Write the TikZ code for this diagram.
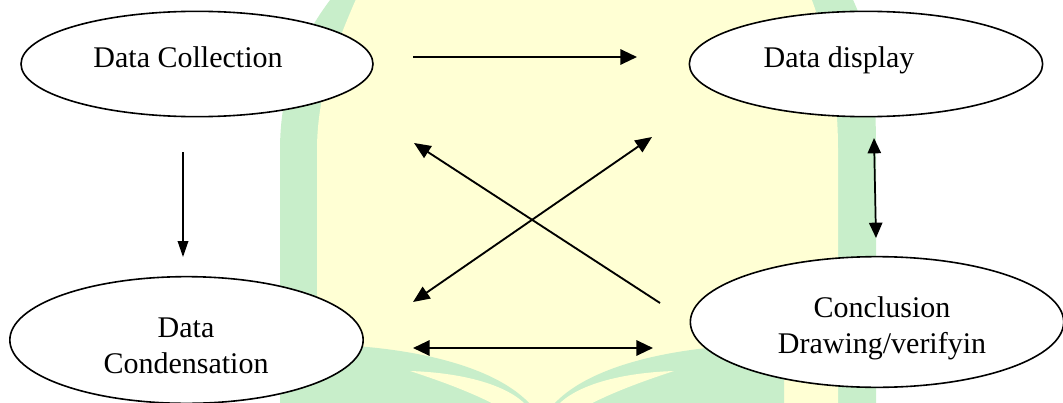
\documentclass[tikz,border=0pt]{standalone}
\usepackage{fontspec}
\setmainfont{Liberation Serif}
\usetikzlibrary{arrows.meta,shapes.geometric}
\definecolor{wmyellow}{RGB}{255,255,212}
\definecolor{wmgreen}{RGB}{200,238,202}
\begin{document}
\begin{tikzpicture}[x=0.75pt,y=-0.75pt,
  stage/.style={ellipse, draw, line width=1.2pt, fill=white, inner sep=0pt},
  caption/.style={font=\fontsize{22.5}{27}\selectfont, inner sep=0pt, align=center},
  flow/.style={line width=1.6pt, -{Triangle[length=12.5pt,width=11.5pt]}},
  twoway/.style={line width=1.6pt, {Triangle[length=12.5pt,width=11.5pt]}-{Triangle[length=12.5pt,width=11.5pt]}},
  thinflow/.style={line width=1pt, -{Triangle[length=12pt,width=8pt]}},
  thintwoway/.style={line width=1.3pt, {Triangle[length=11.5pt,width=10pt]}-{Triangle[length=11.5pt,width=10pt]}},
  slant/.style={line width=1.4pt, -{Triangle[length=12.5pt,width=10.5pt]}},
  slanttwoway/.style={line width=1.4pt, {Triangle[length=12.5pt,width=10.5pt]}-{Triangle[length=12.5pt,width=10.5pt]}}
]
\useasboundingbox (0,0) rectangle (1063,403);

% faint background emblem
\begin{scope}
  \clip (0,0) rectangle (1063,403);
  \fill[wmgreen] (280,410) -- (280,150) .. controls (280,80) and (305,30) .. (338,-10)
    -- (848,-10) .. controls (870,30) and (876,80) .. (876,150) -- (876,410) -- cycle;
  \fill[wmyellow] (317,410) -- (317,150) .. controls (317,90) and (338,40) .. (360,-10)
    -- (808,-10) .. controls (828,40) and (838,90) .. (838,150) -- (838,410) -- cycle;
  % open book
  \fill[wmgreen] (300,344) .. controls (420,344) and (505,370) .. (535,410) -- (300,410) -- cycle;
  \fill[wmgreen] (784,344) .. controls (664,344) and (579,370) .. (549,410) -- (784,410) -- cycle;
  \fill[wmyellow] (410,371) .. controls (470,373) and (515,388) .. (530,410)
    -- (505,410) .. controls (480,396) and (450,384) .. (410,371) -- cycle;
  \fill[wmyellow] (674,371) .. controls (614,373) and (569,388) .. (554,410)
    -- (579,410) .. controls (604,396) and (634,384) .. (674,371) -- cycle;
\end{scope}

% stages
\node[stage, minimum width=264pt, minimum height=79pt] (coll) at (197,64) {};
\node[stage, minimum width=265pt, minimum height=79pt] (disp) at (866,64) {};
\node[stage, minimum width=265pt, minimum height=95pt] (cond) at (186.5,340) {};
\node[stage, minimum width=280pt, minimum height=98pt] (concl) at (877,322) {};

\node[caption, anchor=base] (collT) at (188,68) {Data Collection};
\node[caption, anchor=base] (dispT) at (839,68) {Data display};
\node[caption] (condT) at (186,346) {Data\\Condensation};
\node[caption] (conclT) at (882,328) {Conclusion\\Drawing/verifyin};

% connector ends
\coordinate (collOut) at (413,57);
\coordinate (dispIn) at (637,57);
\coordinate (collDown) at (183,152);
\coordinate (condIn) at (183,257);
\coordinate (dispBelow) at (874,138);
\coordinate (conclAbove) at (876,238);
\coordinate (condRight) at (413,348);
\coordinate (conclLeft) at (653,348);
\coordinate (conclUp) at (660,303);
\coordinate (collBelow) at (414,143);
\coordinate (condUp) at (413,302);
\coordinate (dispLow) at (652,137);

% connectors
\draw[flow] (collOut) -- (dispIn);
\draw[thinflow] (collDown) -- (condIn);
\draw[thintwoway] (dispBelow) -- (conclAbove);
\draw[twoway] (condRight) -- (conclLeft);
\draw[slant] (conclUp) -- (collBelow);
\draw[slanttwoway] (condUp) -- (dispLow);
\end{tikzpicture}
\end{document}
